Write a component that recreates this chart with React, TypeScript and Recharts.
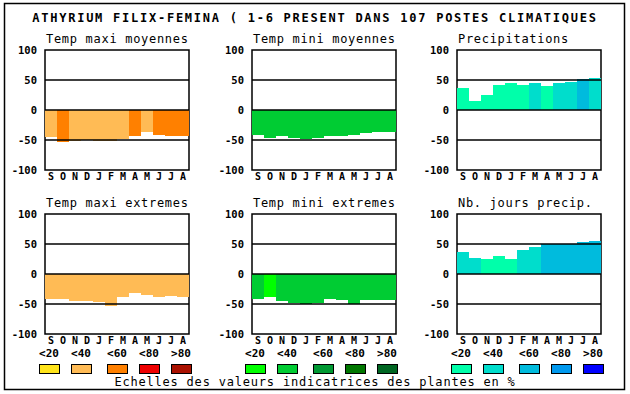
import React from 'react';
import { BarChart, Bar, XAxis, YAxis, Cell, ReferenceLine, ReferenceArea } from 'recharts';

const FONT = '"DejaVu Sans Mono", monospace';

// mois de septembre a aout
const months = ['S', 'O', 'N', 'D', 'J', 'F', 'M', 'A', 'M', 'J', 'J', 'A'];
const yTicks = [-100, -50, 0, 50, 100];
const scaleLabels = ['<20', '<40', '<60', '<80', '>80'];

// echelles de couleur (classes <20 ... >80)
const orangeScale = ['#FFE41A', '#FFBB55', '#FF8000', '#EE0000', '#AA1100'];
const greenScale = ['#00FF00', '#00CC33', '#009933', '#007700', '#006622'];
const blueScale = ['#00FFAA', '#00DDCC', '#00BBDD', '#0099EE', '#0000FF'];

// valeurs + classe de couleur par mois
const maxiMoyValues = [-45, -54, -52, -50, -52, -52, -48, -43, -36, -41, -43, -43];
const maxiMoyClass = [1, 2, 1, 1, 1, 1, 1, 2, 1, 2, 2, 2];

const miniMoyValues = [-42, -46, -43, -46, -48, -46, -43, -43, -42, -38, -37, -37];
const miniMoyClass = [1, 1, 1, 1, 1, 1, 1, 1, 1, 1, 1, 1];

const precipValues = [37, 15, 25, 42, 45, 42, 45, 40, 45, 47, 52, 53];
const precipClass = [0, 0, 0, 0, 0, 0, 1, 0, 1, 1, 2, 1];

const maxiExtValues = [-42, -42, -45, -45, -47, -53, -38, -32, -35, -38, -37, -38];
const maxiExtClass = [1, 1, 1, 1, 1, 1, 1, 1, 1, 1, 1, 1];

const miniExtValues = [-42, -38, -45, -48, -50, -48, -42, -43, -50, -43, -43, -43];
const miniExtClass = [1, 0, 1, 1, 1, 1, 1, 1, 1, 1, 1, 1];

const joursValues = [37, 27, 25, 30, 25, 40, 45, 50, 50, 50, 53, 55];
const joursClass = [1, 1, 0, 0, 0, 1, 1, 2, 2, 2, 2, 2];

const panels = [
  { title: 'Temp maxi moyennes', values: maxiMoyValues, cls: maxiMoyClass, palette: orangeScale, px: 45, py: 50 },
  { title: 'Temp mini moyennes', values: miniMoyValues, cls: miniMoyClass, palette: greenScale, px: 252, py: 50 },
  { title: 'Precipitations', values: precipValues, cls: precipClass, palette: blueScale, px: 457, py: 50 },
  { title: 'Temp maxi extremes', values: maxiExtValues, cls: maxiExtClass, palette: orangeScale, px: 45, py: 214 },
  { title: 'Temp mini extremes', values: miniExtValues, cls: miniExtClass, palette: greenScale, px: 252, py: 214 },
  { title: 'Nb. jours precip.', values: joursValues, cls: joursClass, palette: blueScale, px: 457, py: 214 },
];

const legendGroups = [
  { x: 39, palette: orangeScale },
  { x: 245, palette: greenScale },
  { x: 451, palette: blueScale },
];
const legendOffsets = [0, 32, 68, 100, 132];

const Panel = ({ p }: { p: (typeof panels)[number] }) => {
  const data = p.values.map((v, i) => ({ k: i, v, c: p.palette[p.cls[i]] }));
  return (
    <div style={{ position: 'absolute', left: p.px - 40, top: p.py - 10 }}>
      <BarChart
        width={200}
        height={160}
        data={data}
        barCategoryGap={0}
        margin={{ top: 10, right: 16, bottom: 10, left: 0 }}
      >
        <XAxis
          dataKey="k"
          type="category"
          interval={0}
          height={20}
          tickLine={false}
          axisLine={false}
          tickSize={0}
          tickMargin={3}
          tickFormatter={(i) => months[i]}
          tick={{ fill: '#000', fontSize: 10, fontWeight: 'bold', fontFamily: FONT }}
        />
        <YAxis
          type="number"
          domain={[-100, 100]}
          ticks={yTicks}
          interval={0}
          width={40}
          tickLine={false}
          axisLine={false}
          tickSize={0}
          tickMargin={8}
          tick={{ fill: '#000', fontSize: 10.5, fontWeight: 'bold', fontFamily: FONT }}
        />
        <Bar dataKey="v" isAnimationActive={false} shapeRendering="crispEdges">
          {data.map((d) => (
            <Cell key={d.k} fill={d.c} />
          ))}
        </Bar>
        {[-50, 0, 50].map((y) => (
          <ReferenceLine key={y} y={y} stroke="#000" strokeWidth={1.5} />
        ))}
        <ReferenceArea y1={-100} y2={100} fill="none" fillOpacity={0} stroke="#000" strokeWidth={1.5} strokeOpacity={1} />
      </BarChart>
    </div>
  );
};

export default function App() {
  return (
    <div style={{ position: 'absolute', left: 0, top: 0, width: 630, height: 394, background: '#fff', overflow: 'hidden' }}>
      {panels.map((p) => (
        <Panel key={p.title} p={p} />
      ))}
      <svg width={630} height={394} style={{ position: 'absolute', left: 0, top: 0, pointerEvents: 'none' }}>
        <rect x={4.5} y={3.5} width={620} height={386} fill="none" stroke="#000" strokeWidth={1.5} />
        <text x={315} y={22} textAnchor="middle" fontFamily={FONT} fontSize={12} fontWeight="bold" letterSpacing={1.75}>
          ATHYRIUM FILIX-FEMINA ( 1-6 PRESENT DANS 107 POSTES CLIMATIQUES
        </text>
        {panels.map((p) => (
          <text key={p.title} x={p.px + 1} y={p.py - 7} fontFamily={FONT} fontSize={12} letterSpacing={0.7}>
            {p.title}
          </text>
        ))}
        {legendGroups.map((g) =>
          scaleLabels.map((lab, i) => (
            <g key={g.x + lab}>
              <text
                x={g.x + legendOffsets[i] + 10}
                y={357}
                textAnchor="middle"
                fontFamily={FONT}
                fontSize={11}
                fontWeight="bold"
              >
                {lab}
              </text>
              <rect
                x={g.x + legendOffsets[i] + 0.5}
                y={364.5}
                width={20}
                height={9}
                fill={g.palette[i]}
                stroke="#000"
                strokeWidth={1}
              />
            </g>
          ))
        )}
        <text x={315} y={386} textAnchor="middle" fontFamily={FONT} fontSize={12} letterSpacing={0.8}>
          Echelles des valeurs indicatrices des plantes en %
        </text>
      </svg>
    </div>
  );
}
